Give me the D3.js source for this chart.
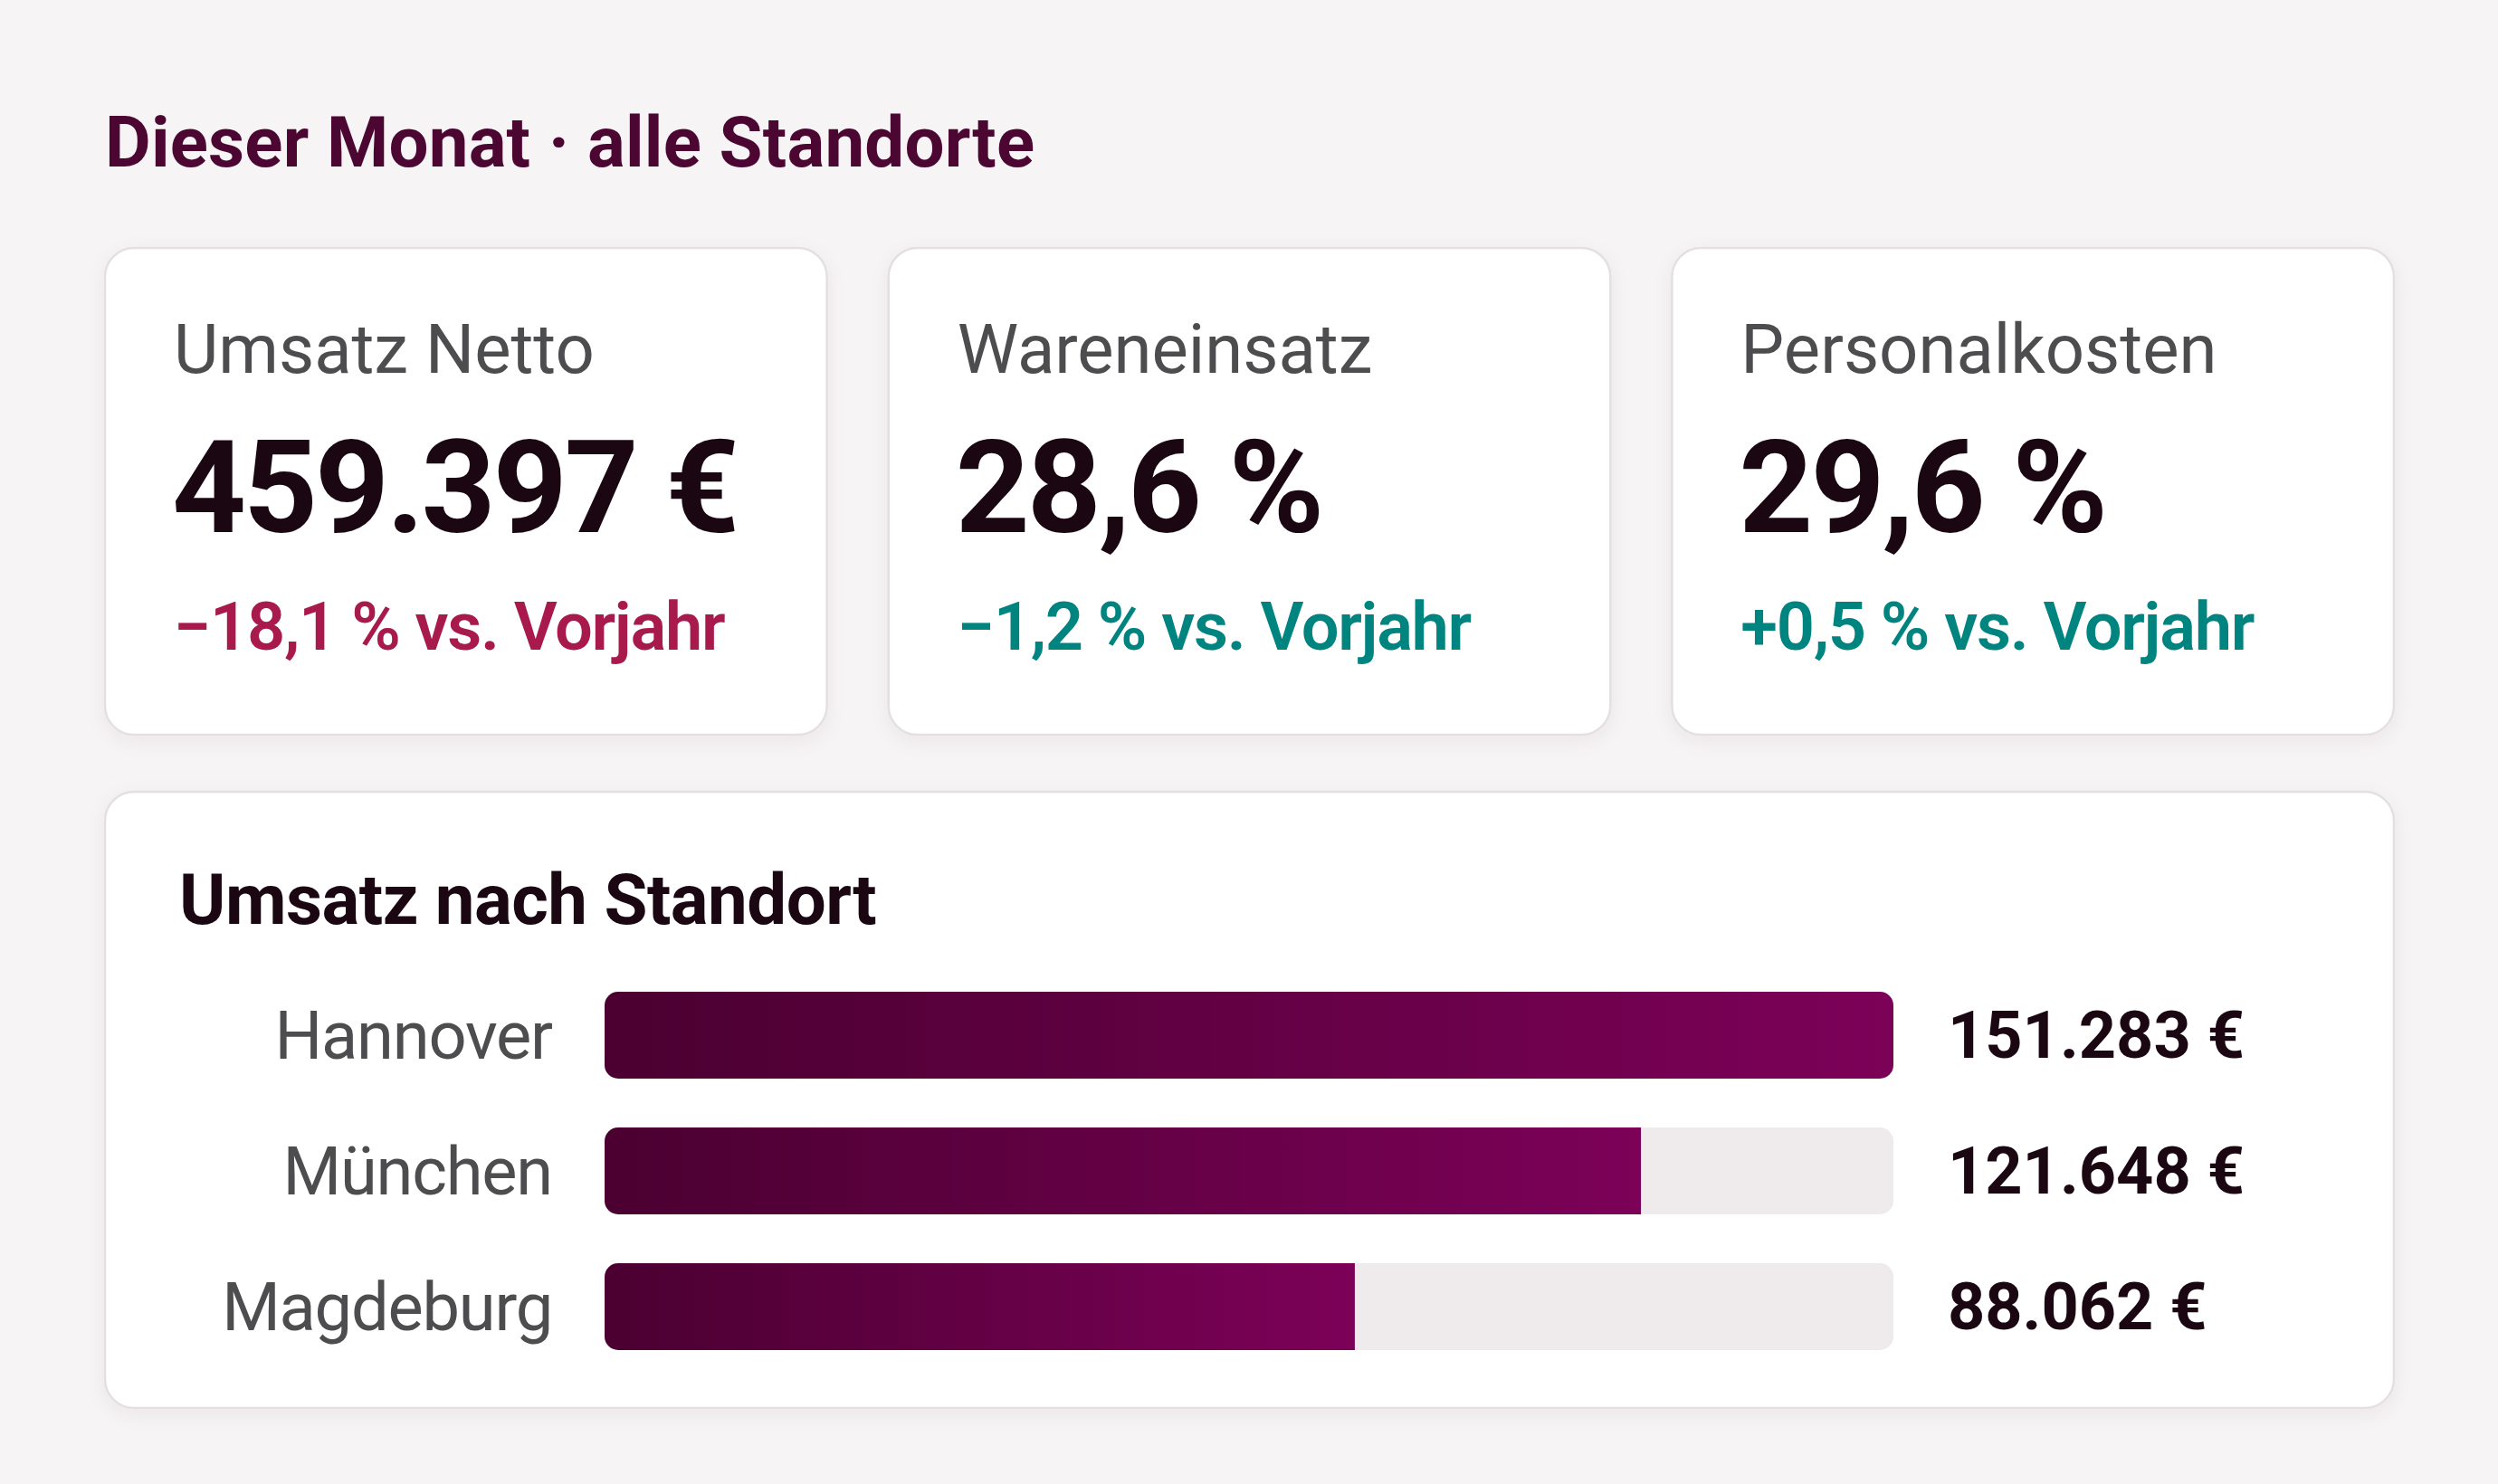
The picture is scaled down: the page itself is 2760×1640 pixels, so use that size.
<!DOCTYPE html>
<html>
<head>
<meta charset="utf-8">
<script src="https://cdn.jsdelivr.net/npm/d3@7"></script>
<style>
  html, body { margin: 0; padding: 0; background: #f6f4f5; }
  svg { display: block; font-family: Roboto, "Noto Sans", sans-serif; }
</style>
</head>
<body>
<svg id="chart" width="2760" height="1640"></svg>
<script>
// ---------- data ----------
const pageTitle = "Dieser Monat · alle Standorte";
const kpiLabels = ["Umsatz Netto", "Wareneinsatz", "Personalkosten"];
const kpiValues = [459397, 28.6, 29.6];
const kpiUnits = ["€", "%", "%"];
const kpiDeltas = [-18.1, -1.2, 0.5];
const kpiTones = ["bad", "good", "good"];
const deltaSuffix = "vs. Vorjahr";

const barTitle = "Umsatz nach Standort";
const locations = ["Hannover", "München", "Magdeburg"];
const revenue = [151283, 121648, 88062];

// ---------- formatting ----------
const de = d3.formatLocale({ decimal: ",", thousands: ".", grouping: [3], currency: ["", " €"], minus: "\u2212" });
const fmtInt = de.format(",d");
const fmt1 = de.format(",.1f");
const fmtDelta = de.format("+,.1f");
function fmtKpi(v, u) { return (u === "€" ? fmtInt(v) : fmt1(v)) + " " + u; }
function fmtDeltaTxt(v) { return (v < 0 ? "\u2212" + fmt1(-v) : fmtDelta(v)) + " % " + deltaSuffix; }

// ---------- styles ----------
const C = {
  bg: "#f6f4f5", card: "#ffffff", border: "#e4e0e2",
  title: "#4c0632", ink: "#1a0711", label: "#4d4d4f",
  bad: "#a8194c", good: "#00847f", track: "#efebec",
  barFrom: "#4b0031", barTo: "#7c0158"
};

const svg = d3.select("#chart");
svg.append("rect").attr("width", 2760).attr("height", 1640).attr("fill", C.bg);

const defs = svg.append("defs");
const sh = defs.append("filter").attr("id", "shadow").attr("x", "-10%").attr("y", "-10%").attr("width", "120%").attr("height", "130%");
sh.append("feDropShadow").attr("dx", 0).attr("dy", 6).attr("stdDeviation", 10).attr("flood-color", "#3a1030").attr("flood-opacity", 0.06);

const grad = defs.append("linearGradient").attr("id", "barGrad").attr("x1", 0).attr("x2", 1).attr("y1", 0).attr("y2", 0);
grad.append("stop").attr("offset", "0%").attr("stop-color", C.barFrom);
grad.append("stop").attr("offset", "100%").attr("stop-color", C.barTo);

// ---------- title ----------
svg.append("text").attr("x", 116).attr("y", 184)
  .attr("font-size", 78).attr("font-weight", 700).attr("fill", C.title)
  .attr("letter-spacing", 0.2)
  .text(pageTitle);

// ---------- KPI cards ----------
const cardX = d3.scaleBand().domain(d3.range(kpiLabels.length)).range([116, 2645]).paddingInner(0.0786);
const cardTop = 274, cardH = 538;

const cards = svg.selectAll("g.kpi").data(kpiLabels).join("g").attr("class", "kpi")
  .attr("transform", (d, i) => `translate(${cardX(i)},${cardTop})`);

cards.append("rect").attr("width", cardX.bandwidth()).attr("height", cardH)
  .attr("rx", 32).attr("fill", C.card).attr("stroke", C.border).attr("stroke-width", 2.5)
  .attr("filter", "url(#shadow)");

cards.append("text").attr("x", 76).attr("y", 138)
  .attr("font-size", 76).attr("font-weight", 400).attr("fill", C.label)
  .text(d => d);

cards.append("text").attr("x", 74).attr("y", 314)
  .attr("font-size", 143).attr("font-weight", 700).attr("fill", C.ink)
  .attr("letter-spacing", -3)
  .text((d, i) => fmtKpi(kpiValues[i], kpiUnits[i]));

cards.append("text").attr("x", 76).attr("y", 444)
  .attr("font-size", 74).attr("font-weight", 600).attr("fill", (d, i) => C[kpiTones[i]])
  .attr("letter-spacing", -1.3)
  .text((d, i) => fmtDeltaTxt(kpiDeltas[i]));

// ---------- bar card ----------
const bc = svg.append("g").attr("transform", "translate(116,875)");
bc.append("rect").attr("width", 2645 - 116).attr("height", 1556 - 875)
  .attr("rx", 32).attr("fill", C.card).attr("stroke", C.border).attr("stroke-width", 2.5)
  .attr("filter", "url(#shadow)");

svg.append("text").attr("x", 198).attr("y", 1021)
  .attr("font-size", 78).attr("font-weight", 700).attr("fill", C.ink)
  .attr("letter-spacing", -0.5)
  .text(barTitle);

const x = d3.scaleLinear().domain([0, d3.max(revenue)]).range([668, 2092]);
const y = d3.scaleBand().domain(locations).range([1096, 1492]).paddingInner(0.36).paddingOuter(0);

const rows = svg.selectAll("g.row").data(locations).join("g").attr("class", "row");

rows.each(function (d, i) {
  defs.append("clipPath").attr("id", "clip" + i)
    .append("rect").attr("x", x(0)).attr("y", y(d)).attr("width", x.range()[1] - x(0))
    .attr("height", y.bandwidth()).attr("rx", 15);
});

rows.append("rect").attr("x", x(0)).attr("y", d => y(d))
  .attr("width", x.range()[1] - x(0)).attr("height", y.bandwidth())
  .attr("rx", 15).attr("fill", C.track);

rows.append("rect").attr("x", x(0)).attr("y", d => y(d))
  .attr("width", (d, i) => x(revenue[i]) - x(0)).attr("height", y.bandwidth())
  .attr("fill", "url(#barGrad)")
  .attr("clip-path", (d, i) => `url(#clip${i})`);

rows.append("text").attr("x", 610).attr("y", d => y(d) + y.bandwidth() / 2 + 26)
  .attr("text-anchor", "end").attr("font-size", 74).attr("font-weight", 400).attr("fill", C.label)
  .attr("letter-spacing", -1.2)
  .text(d => d);

rows.append("text").attr("x", 2152).attr("y", d => y(d) + y.bandwidth() / 2 + 25)
  .attr("font-size", 72).attr("font-weight", 700).attr("fill", C.ink)
  .attr("letter-spacing", 0)
  .text((d, i) => fmtKpi(revenue[i], "€"));
</script>
</body>
</html>
